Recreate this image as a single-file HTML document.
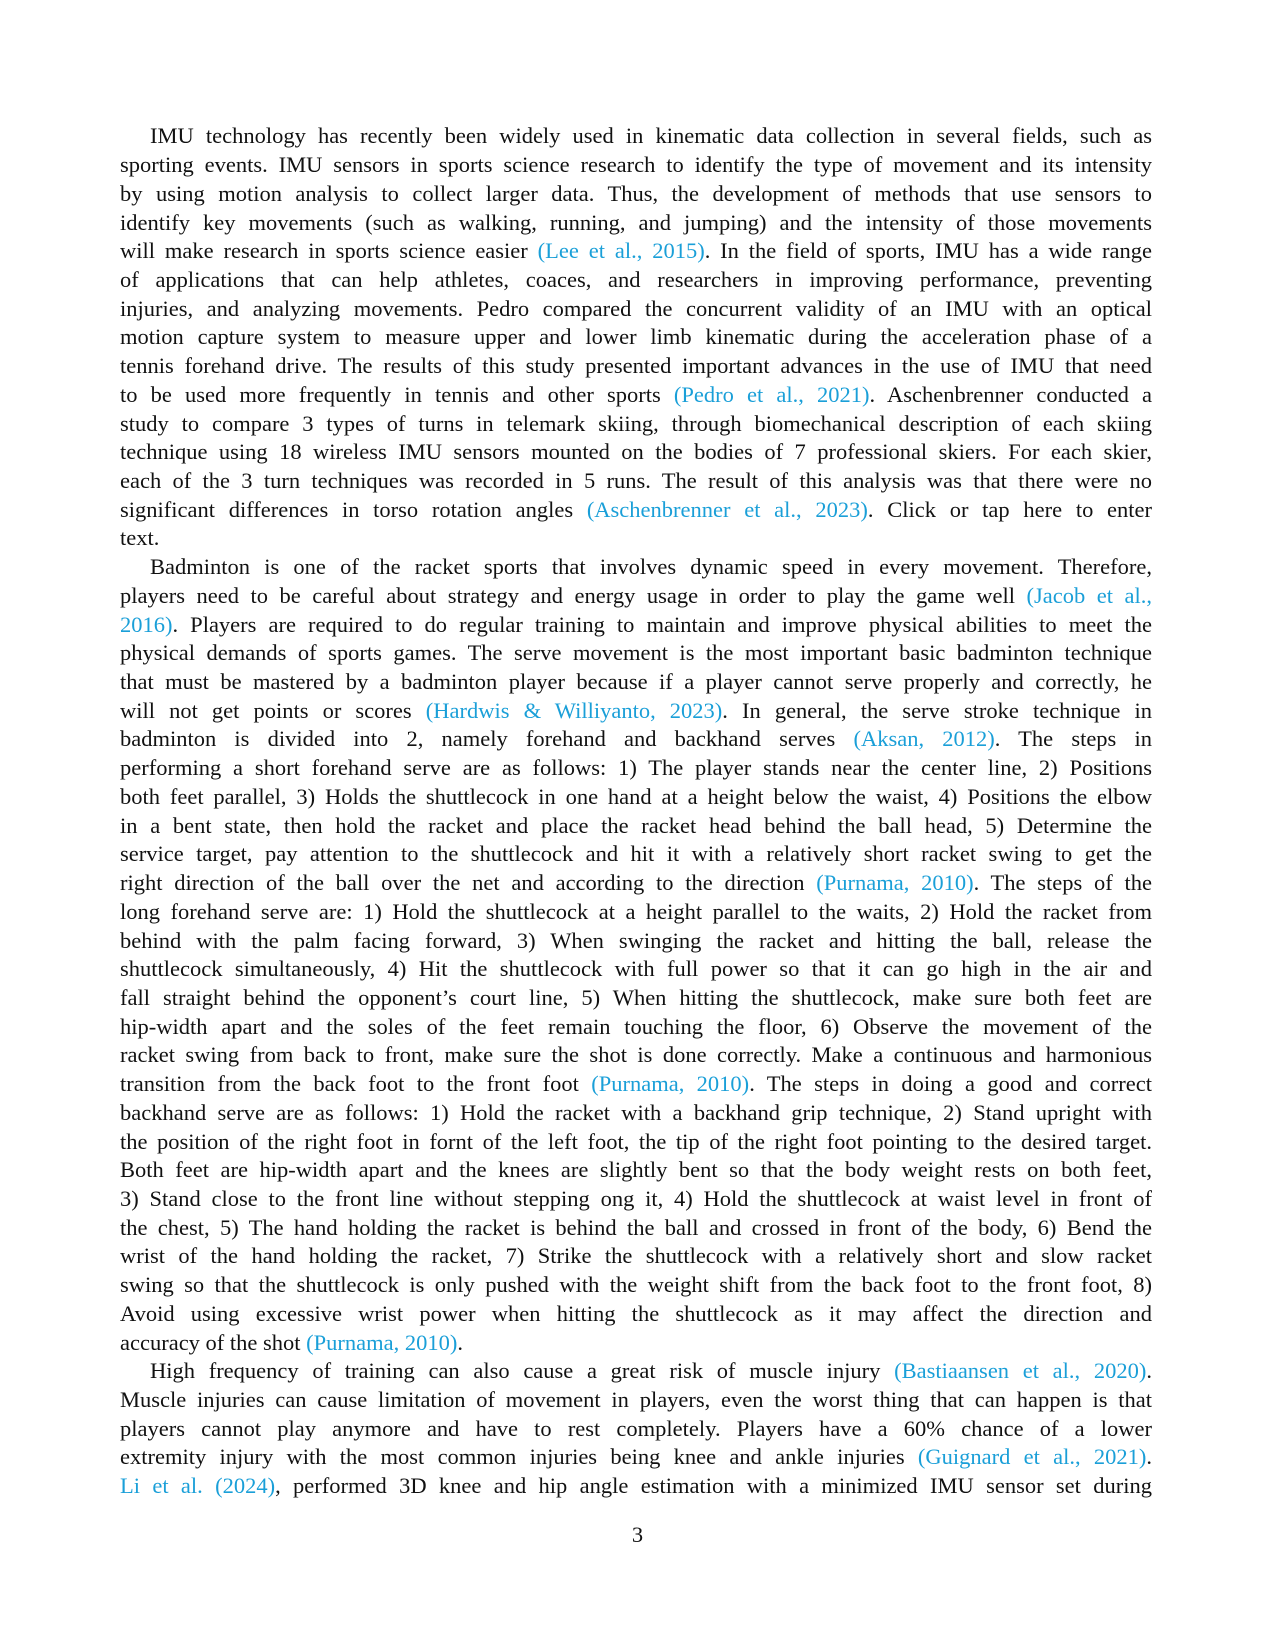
<!DOCTYPE html>
<html><head><meta charset="utf-8"><style>
html,body{margin:0;padding:0;background:#fff;}
body{width:1275px;height:1650px;position:relative;overflow:hidden;font-family:"Liberation Serif",serif;font-size:22.5px;color:#111;}
.w{position:absolute;left:0;top:121.4px;width:1275px;}
.l{position:relative;margin-left:120px;width:1032px;height:28.72px;line-height:29px;white-space:nowrap;text-align:justify;text-align-last:justify;}
.l.i{margin-left:150px;width:1002px;}
.l.e{text-align-last:left;}
.c{color:#1a9fd8;}
.pn{position:absolute;left:0;width:1275px;text-align:center;top:1520px;line-height:29px;}
</style></head><body>
<div class="w">
<div class="l i">IMU technology has recently been widely used in kinematic data collection in several fields, such as</div>
<div class="l">sporting events. IMU sensors in sports science research to identify the type of movement and its intensity</div>
<div class="l">by using motion analysis to collect larger data. Thus, the development of methods that use sensors to</div>
<div class="l">identify key movements (such as walking, running, and jumping) and the intensity of those movements</div>
<div class="l">will make research in sports science easier <span class="c">(Lee et al., 2015)</span>. In the field of sports, IMU has a wide range</div>
<div class="l">of applications that can help athletes, coaces, and researchers in improving performance, preventing</div>
<div class="l">injuries, and analyzing movements. Pedro compared the concurrent validity of an IMU with an optical</div>
<div class="l">motion capture system to measure upper and lower limb kinematic during the acceleration phase of a</div>
<div class="l">tennis forehand drive. The results of this study presented important advances in the use of IMU that need</div>
<div class="l">to be used more frequently in tennis and other sports <span class="c">(Pedro et al., 2021)</span>. Aschenbrenner conducted a</div>
<div class="l">study to compare 3 types of turns in telemark skiing, through biomechanical description of each skiing</div>
<div class="l">technique using 18 wireless IMU sensors mounted on the bodies of 7 professional skiers. For each skier,</div>
<div class="l">each of the 3 turn techniques was recorded in 5 runs. The result of this analysis was that there were no</div>
<div class="l">significant differences in torso rotation angles <span class="c">(Aschenbrenner et al., 2023)</span>. Click or tap here to enter</div>
<div class="l e">text.</div>
<div class="l i">Badminton is one of the racket sports that involves dynamic speed in every movement. Therefore,</div>
<div class="l">players need to be careful about strategy and energy usage in order to play the game well <span class="c">(Jacob et al.,</span></div>
<div class="l"><span class="c">2016)</span>. Players are required to do regular training to maintain and improve physical abilities to meet the</div>
<div class="l">physical demands of sports games. The serve movement is the most important basic badminton technique</div>
<div class="l">that must be mastered by a badminton player because if a player cannot serve properly and correctly, he</div>
<div class="l">will not get points or scores <span class="c">(Hardwis &amp; Williyanto, 2023)</span>. In general, the serve stroke technique in</div>
<div class="l">badminton is divided into 2, namely forehand and backhand serves <span class="c">(Aksan, 2012)</span>. The steps in</div>
<div class="l">performing a short forehand serve are as follows: 1) The player stands near the center line, 2) Positions</div>
<div class="l">both feet parallel, 3) Holds the shuttlecock in one hand at a height below the waist, 4) Positions the elbow</div>
<div class="l">in a bent state, then hold the racket and place the racket head behind the ball head, 5) Determine the</div>
<div class="l">service target, pay attention to the shuttlecock and hit it with a relatively short racket swing to get the</div>
<div class="l">right direction of the ball over the net and according to the direction <span class="c">(Purnama, 2010)</span>. The steps of the</div>
<div class="l">long forehand serve are: 1) Hold the shuttlecock at a height parallel to the waits, 2) Hold the racket from</div>
<div class="l">behind with the palm facing forward, 3) When swinging the racket and hitting the ball, release the</div>
<div class="l">shuttlecock simultaneously, 4) Hit the shuttlecock with full power so that it can go high in the air and</div>
<div class="l">fall straight behind the opponent’s court line, 5) When hitting the shuttlecock, make sure both feet are</div>
<div class="l">hip-width apart and the soles of the feet remain touching the floor, 6) Observe the movement of the</div>
<div class="l">racket swing from back to front, make sure the shot is done correctly. Make a continuous and harmonious</div>
<div class="l">transition from the back foot to the front foot <span class="c">(Purnama, 2010)</span>. The steps in doing a good and correct</div>
<div class="l">backhand serve are as follows: 1) Hold the racket with a backhand grip technique, 2) Stand upright with</div>
<div class="l">the position of the right foot in fornt of the left foot, the tip of the right foot pointing to the desired target.</div>
<div class="l">Both feet are hip-width apart and the knees are slightly bent so that the body weight rests on both feet,</div>
<div class="l">3) Stand close to the front line without stepping ong it, 4) Hold the shuttlecock at waist level in front of</div>
<div class="l">the chest, 5) The hand holding the racket is behind the ball and crossed in front of the body, 6) Bend the</div>
<div class="l">wrist of the hand holding the racket, 7) Strike the shuttlecock with a relatively short and slow racket</div>
<div class="l">swing so that the shuttlecock is only pushed with the weight shift from the back foot to the front foot, 8)</div>
<div class="l">Avoid using excessive wrist power when hitting the shuttlecock as it may affect the direction and</div>
<div class="l e">accuracy of the shot <span class="c">(Purnama, 2010)</span>.</div>
<div class="l i">High frequency of training can also cause a great risk of muscle injury <span class="c">(Bastiaansen et al., 2020)</span>.</div>
<div class="l">Muscle injuries can cause limitation of movement in players, even the worst thing that can happen is that</div>
<div class="l">players cannot play anymore and have to rest completely. Players have a 60% chance of a lower</div>
<div class="l">extremity injury with the most common injuries being knee and ankle injuries <span class="c">(Guignard et al., 2021)</span>.</div>
<div class="l"><span class="c">Li et al. (2024)</span>, performed 3D knee and hip angle estimation with a minimized IMU sensor set during</div>
</div>
<div class="pn">3</div>
</body></html>
